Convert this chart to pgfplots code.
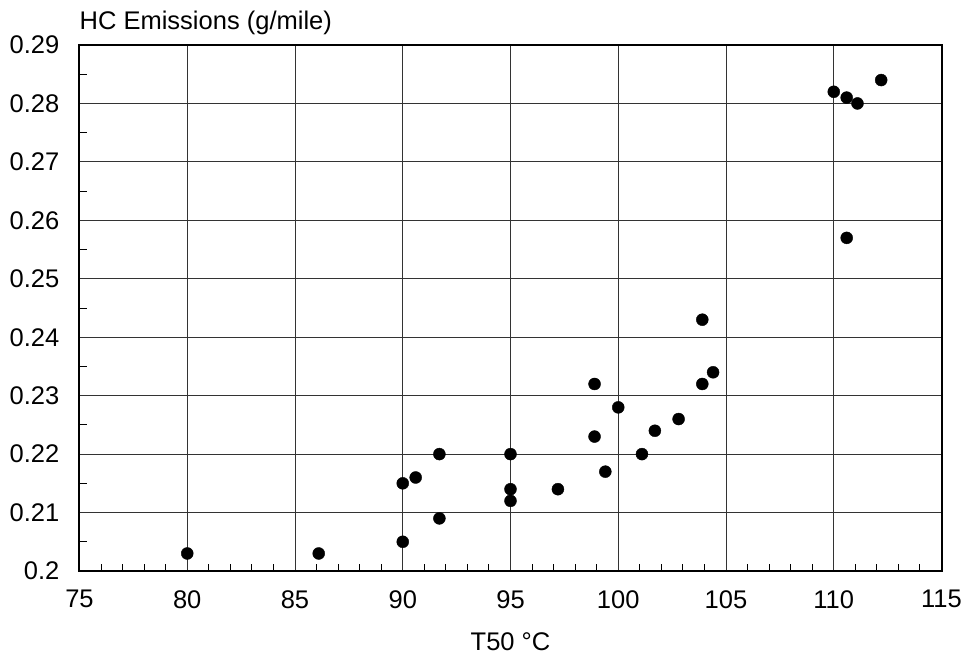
\documentclass[border=0pt]{standalone}
\usepackage{fontspec}
\setmainfont{Liberation Sans}
\usepackage{pgfplots}
\pgfplotsset{compat=1.18}
\usetikzlibrary{calc}

\begin{document}
\begin{tikzpicture}
\begin{axis}[
    scale only axis,
    width=862pt, height=526pt,
    xmin=75, xmax=115,
    ymin=0.2, ymax=0.29,
    xtick={75,80,85,90,95,100,105,110,115},
    ytick={0.2,0.21,0.22,0.23,0.24,0.25,0.26,0.27,0.28,0.29},
    minor x tick num=4,
    minor y tick num=1,
    tick pos=left,
    tick align=inside,
    major tick length=0pt,
    minor tick length=7pt,
    minor tick style={line width=1pt, black},
    grid=major,
    grid style={black!80, line width=1pt},
    axis line style={line width=2pt},
    /pgf/number format/assume math mode=true,
    tick label style={font=\fontsize{25.5}{30}\selectfont},
    xticklabel style={inner sep=0pt, yshift=-19pt},
    yticklabel style={inner sep=0pt, xshift=-20pt,
        /pgf/number format/fixed, /pgf/number format/precision=2},
    xlabel={T50 °C},
    x label style={font=\fontsize{25.5}{30}\selectfont, inner sep=0pt,
        at={(axis description cs:0.5,0)}, anchor=north, yshift=-61pt},
    clip=false,
]
\addplot[only marks, mark=*, mark size=6pt, black] coordinates {
    (80,0.203) (86.1,0.203) (90,0.205) (90,0.215) (90.6,0.216)
    (91.7,0.220) (91.7,0.209) (95,0.220) (95,0.214) (95,0.212)
    (97.2,0.214) (98.9,0.232) (98.9,0.223) (99.4,0.217) (100,0.228)
    (101.1,0.220) (101.7,0.224) (102.8,0.226) (103.9,0.243) (103.9,0.232)
    (104.4,0.234) (110,0.282) (110.6,0.281) (111.1,0.280) (112.2,0.284)
    (110.6,0.257)
};
\node[anchor=base west, inner sep=0pt, font=\fontsize{25.5}{30}\selectfont]
    at ([yshift=15pt]rel axis cs:0,1) {HC Emissions (g/mile)};
\end{axis}
\pgfresetboundingbox
\path[use as bounding box] ($(current axis.south west)+(-79.5pt,-88pt)$) rectangle ++(968pt,659pt);
\end{tikzpicture}
\end{document}
